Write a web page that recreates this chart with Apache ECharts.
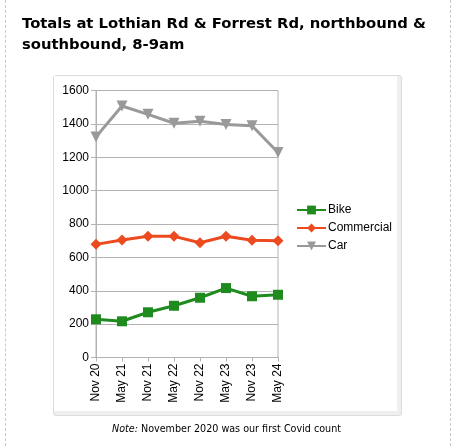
<!DOCTYPE html>
<html>
<head>
<meta charset="utf-8">
<script src="https://cdn.jsdelivr.net/npm/echarts@6/dist/echarts.min.js"></script>
<style>
  body { margin: 0; background: #fff; }
  .page { position: absolute; left: 5px; top: 0; width: 444px; height: 446px;
          border-left: 1px dashed #c8c8c8; border-right: 1px dashed #c8c8c8; }
  .frame { position: absolute; left: 53px; top: 75px; width: 347px; height: 339px;
           background: #efefef; border: 1px solid #dcdcdc; border-radius: 3px; }
  .inner { position: absolute; left: 0; top: 0; width: 343px; height: 335px; background: #fff; }
  #chart { position: absolute; left: 0; top: 0; width: 453px; height: 446px; }
</style>
</head>
<body>
<div class="page"></div>
<div class="frame"><div class="inner"></div></div>
<div id="chart"></div>
<script>
var categories = ['Nov 20', 'May 21', 'Nov 21', 'May 22', 'Nov 22', 'May 23', 'Nov 23', 'May 24'];
var bike = [229, 217, 271, 310, 358, 416, 367, 376];
var commercial = [678, 704, 726, 726, 688, 727, 702, 700];
var car = [1322, 1507, 1457, 1404, 1416, 1396, 1389, 1228];
var yTicks = { min: 0, max: 1600, interval: 200 };

var chart = echarts.init(document.getElementById('chart'));

var labelFont = 'Liberation Sans, Arial, sans-serif';

var option = {
    animation: false,
    title: {
        text: 'Totals at Lothian Rd & Forrest Rd, northbound &\nsouthbound, 8-9am',
        left: 17,
        top: 9,
        textStyle: {
            fontFamily: 'DejaVu Sans, Verdana, sans-serif',
            fontWeight: 'bold',
            fontSize: 14.8,
            lineHeight: 21,
            color: '#000'
        }
    },
    grid: {
        left: 96,
        right: 175,
        top: 90.5,
        bottom: 88.5,
        show: true,
        borderColor: '#b3b3b3',
        borderWidth: 1
    },
    legend: {
        orient: 'vertical',
        left: 291,
        top: 199,
        itemWidth: 29,
        itemHeight: 11,
        itemGap: 6,
        data: ['Bike', 'Commercial', 'Car'],
        textStyle: { fontFamily: labelFont, fontSize: 12, color: '#000', padding: [0, 0, 0, -3] }
    },
    xAxis: {
        type: 'category',
        boundaryGap: false,
        data: categories,
        axisLine: { lineStyle: { color: '#b3b3b3' } },
        axisTick: { show: true, length: 4, alignWithLabel: true, lineStyle: { color: '#b3b3b3' } },
        axisLabel: { rotate: 90, margin: 6, fontFamily: labelFont, fontSize: 12, color: '#000' },
        splitLine: { show: false }
    },
    yAxis: {
        type: 'value',
        min: yTicks.min,
        max: yTicks.max,
        interval: yTicks.interval,
        axisLine: { show: true, lineStyle: { color: '#b3b3b3' } },
        axisTick: { show: true, length: 5, lineStyle: { color: '#b3b3b3' } },
        axisLabel: {
            margin: 7, fontFamily: labelFont, fontSize: 12, color: '#000',
            formatter: function (v) { return String(v); }
        },
        splitLine: { lineStyle: { color: '#b3b3b3' } }
    },
    series: [
        {
            name: 'Bike',
            type: 'line',
            data: bike,
            symbol: 'rect',
            symbolSize: 10,
            color: '#1f8b1f',
            lineStyle: { width: 3 }
        },
        {
            name: 'Commercial',
            type: 'line',
            data: commercial,
            symbol: 'diamond',
            symbolSize: 11,
            color: '#ec4a1f',
            lineStyle: { width: 3 }
        },
        {
            name: 'Car',
            type: 'line',
            data: car,
            symbol: 'triangle',
            symbolRotate: 180,
            symbolSize: 11,
            color: '#999999',
            lineStyle: { width: 3 }
        }
    ],
    graphic: [
        {
            type: 'text',
            left: 'center',
            top: 424,
            style: {
                text: '{i|Note:} November 2020 was our first Covid count',
                fontFamily: 'DejaVu Sans, Verdana, sans-serif',
                fontSize: 9.6,
                fill: '#000',
                rich: {
                    i: { fontStyle: 'italic', fontFamily: 'DejaVu Sans, Verdana, sans-serif', fontSize: 9.6 }
                }
            }
        }
    ]
};

chart.setOption(option);
</script>
</body>
</html>
